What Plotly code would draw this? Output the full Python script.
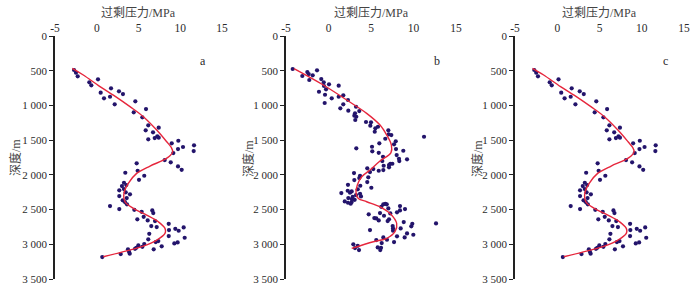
import plotly.graph_objects as go

# ---------------- data ----------------
# panel a (and c): measured excess pressure (MPa) vs depth (m)
a_pressure = [-2.72, -2.49, -2.28, 0.15, -0.89, -0.65, 1.71, 2.66, 0.47, 3.14, 1.59, 0.87, 2.15, 4.62,
              5.90, 4.43, 5.46, 6.17, 7.42, 5.86, 6.74, 7.25, 6.94, 7.42, 6.17, 9.77, 8.98, 11.65, 10.33,
              9.73, 11.61, 9.17, 8.14, 8.86, 4.78, 9.73, 10.17, 4.90, 3.42, 5.69, 5.06, 3.26, 3.54, 3.02,
              3.26, 2.70, 3.47, 3.98, 2.70, 3.59, 3.11, 3.38, 3.62, 1.59, 2.70, 4.50, 5.38, 6.65, 6.77,
              4.86, 5.62, 6.10, 6.98, 8.62, 6.53, 7.18, 9.41, 10.41, 8.65, 9.81, 6.29, 8.62, 10.53, 6.17,
              7.06, 7.37, 5.69, 9.69, 9.29, 4.98, 4.74, 5.46, 7.78, 6.82, 4.58, 3.74, 3.86, 3.95, 2.87, 0.66]
a_depth = [490, 529, 581, 624, 667, 710, 754, 797, 817, 836, 875, 898, 984, 941,
           1052, 1099, 1171, 1287, 1321, 1359, 1388, 1445, 1470, 1465, 1488, 1509, 1546, 1575, 1599,
           1628, 1657, 1686, 1787, 1820, 1834, 1878, 1927, 1941, 1970, 2013, 2071, 2114, 2147, 2161,
           2205, 2223, 2252, 2281, 2305, 2334, 2367, 2392, 2425, 2450, 2493, 2503, 2532, 2512, 2550,
           2641, 2604, 2656, 2666, 2705, 2738, 2752, 2777, 2757, 2795, 2805, 2849, 2882, 2906, 2929,
           2968, 2954, 2997, 2973, 2987, 3016, 3050, 3036, 3030, 3073, 3065, 3073, 3107, 3135, 3141, 3184]
a_curve_pressure = [-2.93, -1.61, 0.39, 2.39, 3.98, 5.58, 7.18, 8.38, 8.95, 9.10, 8.80, 7.97, 6.38,
                    4.78, 3.78, 3.26, 3.38, 4.38, 5.98, 7.37, 8.17, 8.17, 7.18, 5.58, 3.58, 0.78]
a_curve_depth = [466, 562, 730, 884, 1018, 1162, 1354, 1523, 1610, 1667, 1720, 1787, 1873,
                 1979, 2123, 2267, 2387, 2483, 2579, 2676, 2771, 2843, 2939, 3026, 3094, 3180]

# panel b
b_pressure = [-4.21, -3.08, -2.49, -2.33, -1.86, -2.26, -1.35, -0.85, -0.56, 0.06, -0.53, -0.29, -1.12,
              1.20, -0.41, 0.38, 1.20, 1.74, 2.29, -0.45, 1.74, 1.39, 2.33, 3.24, 3.62, 3.12, 3.27, 3.15,
              3.04, 4.41, 5.00, 4.92, 5.51, 5.82, 5.44, 7.04, 7.39, 7.08, 6.68, 7.91, 11.24, 7.71, 3.27,
              5.12, 5.98, 7.94, 5.15, 8.80, 5.91, 8.02, 6.41, 8.29, 9.24, 8.33, 6.33, 7.27, 7.51, 7.12,
              6.49, 7.12, 4.56, 5.27, 5.91, 6.45, 4.88, 3.00, 3.71, 3.62, 4.68, 3.04, 4.56, 2.29, 3.74,
              5.04, 3.44, 2.26, 2.73, 1.51, 2.53, 3.71, 3.82, 3.24, 2.85, 2.33, 2.73, 3.08, 1.91, 2.29,
              2.73, 2.61, 6.45, 6.68, 6.85, 6.21, 7.04, 8.41, 9.00, 8.41, 6.06, 7.27, 8.06, 4.73, 6.53,
              5.39, 5.62, 7.12, 6.96, 5.91, 8.85, 9.86, 9.74, 12.65, 7.55, 7.59, 7.59, 8.49, 4.88, 9.24,
              9.98, 8.06, 8.96, 6.45, 6.88, 5.62, 7.71, 6.26, 2.92, 3.44, 5.79, 3.12, 6.18, 3.59, 6.09]
b_depth = [475, 576, 519, 548, 566, 634, 494, 620, 667, 696, 720, 768, 803,
           716, 846, 898, 875, 854, 922, 965, 984, 1042, 1076, 1019, 1081, 1114, 1163, 1210,
           1148, 1239, 1244, 1292, 1330, 1307, 1379, 1359, 1427, 1416, 1480, 1517, 1451, 1560, 1618,
           1595, 1546, 1628, 1661, 1653, 1682, 1715, 1739, 1768, 1777, 1801, 1801, 1840, 1840, 1859,
           1869, 1892, 1906, 1916, 1941, 1931, 1960, 1974, 2013, 2046, 2036, 2075, 2104, 2143, 2157,
           2186, 2209, 2229, 2238, 2262, 2258, 2272, 2310, 2291, 2316, 2334, 2349, 2359, 2382, 2402,
           2392, 2416, 2425, 2416, 2425, 2460, 2483, 2450, 2493, 2512, 2550, 2555, 2540, 2569, 2589,
           2622, 2627, 2641, 2666, 2656, 2680, 2705, 2742, 2699, 2738, 2771, 2805, 2771, 2795, 2843,
           2863, 2886, 2901, 2901, 2935, 2939, 2968, 2983, 3001, 3022, 3045, 3055, 3050, 3084, 3084]
b_curve_pressure = [-4.06, -0.61, 2.14, 4.49, 6.06, 6.85, 7.40, 7.35, 6.06, 4.88, 3.91, 3.39, 3.24,
                    3.51, 4.49, 6.06, 7.24, 8.02, 7.82, 6.85, 5.27, 2.73]
b_curve_depth = [470, 706, 922, 1114, 1282, 1427, 1571, 1680, 1800, 1931, 2027, 2147, 2267,
                 2339, 2387, 2460, 2555, 2699, 2819, 2915, 2964, 3060]

# panel c repeats panel a
c_pressure = list(a_pressure)
c_depth = list(a_depth)
c_curve_pressure = list(a_curve_pressure)
c_curve_depth = list(a_curve_depth)

panel_letters = ["a", "b", "c"]
x_ticks = [-5, 0, 5, 10, 15]
y_ticks = [0, 500, 1000, 1500, 2000, 2500, 3000, 3500]
y_ticktext = ["0", "500", "1 000", "1 500", "2 000", "2 500", "3 000", "3 500"]
x_title = "过剩压力/MPa"
y_title = "深度/m"

# ---------------- layout ----------------
W, H = 700, 288
FONT = "Liberation Serif, Times New Roman, Noto Sans CJK SC, serif"
TXT = "#2a2a2a"
DOT = "#23146b"
RED = "#e6263c"

panels_px = [(55, 222), (286, 456), (515, 684)]   # x pixel span of -5..15
ytitle_px = [15, 248, 477]
y_top_px, y_bot_px = 36, 279

fig = go.Figure()
datasets = [
    (a_pressure, a_depth, a_curve_pressure, a_curve_depth),
    (b_pressure, b_depth, b_curve_pressure, b_curve_depth),
    (c_pressure, c_depth, c_curve_pressure, c_curve_depth),
]

annotations = []
for i, (px, dp, cx, cd) in enumerate(datasets):
    n = "" if i == 0 else str(i + 1)
    xa, ya = "x" + n, "y" + n
    fig.add_trace(go.Scatter(x=px, y=dp, mode="markers", xaxis=xa, yaxis=ya,
                             marker=dict(color=DOT, size=4.2), showlegend=False, hoverinfo="skip"))
    fig.add_trace(go.Scatter(x=cx, y=cd, mode="lines", xaxis=xa, yaxis=ya,
                             line=dict(color=RED, width=1.4, shape="spline", smoothing=1.0),
                             showlegend=False, hoverinfo="skip"))
    x0, x1 = panels_px[i]
    dom_x = [x0 / W, x1 / W]
    dom_y = [1 - y_bot_px / H, 1 - y_top_px / H]
    fig.update_layout(**{
        "xaxis" + n: dict(domain=dom_x, range=[-5, 15], side="top", anchor=ya, automargin=False,
                          tickvals=x_ticks, ticktext=[str(v) for v in x_ticks],
                          showline=False, showgrid=False, zeroline=False, ticks="",
                          ticklabelstandoff=1,
                          tickfont=dict(family=FONT, size=11.5, color=TXT)),
        "yaxis" + n: dict(domain=dom_y, range=[3500, 0], anchor=xa, automargin=False,
                          tickvals=y_ticks, ticktext=y_ticktext,
                          showline=True, linecolor="#222", linewidth=1.5,
                          ticks="outside", ticklen=4, tickwidth=1.2, tickcolor="#222",
                          showgrid=False, zeroline=False,
                          tickfont=dict(family=FONT, size=11, color=TXT)),
    })
    annotations.append(dict(text=x_title, x=(x0 + x1) / 2 / W, y=1 - 13 / H, xref="paper", yref="paper",
                            showarrow=False, font=dict(family=FONT, size=12, color="#444"),
                            xanchor="center", yanchor="middle"))
    annotations.append(dict(text=y_title, x=ytitle_px[i] / W, y=1 - 158 / H, xref="paper", yref="paper",
                            showarrow=False, textangle=-90, font=dict(family=FONT, size=12, color="#444"),
                            xanchor="center", yanchor="middle"))
    annotations.append(dict(text=panel_letters[i], x=(x1 - 19) / W, y=1 - 61 / H, xref="paper",
                            yref="paper", showarrow=False, font=dict(family=FONT, size=12, color=TXT),
                            xanchor="center", yanchor="middle"))

fig.update_layout(width=W, height=H, margin=dict(l=0, r=0, t=0, b=0, autoexpand=False),
                  plot_bgcolor="white", paper_bgcolor="white", annotations=annotations)

fig.write_html("out.html", config={"displayModeBar": False},
               post_script="document.body.style.margin='0';document.body.style.overflow='hidden';")
